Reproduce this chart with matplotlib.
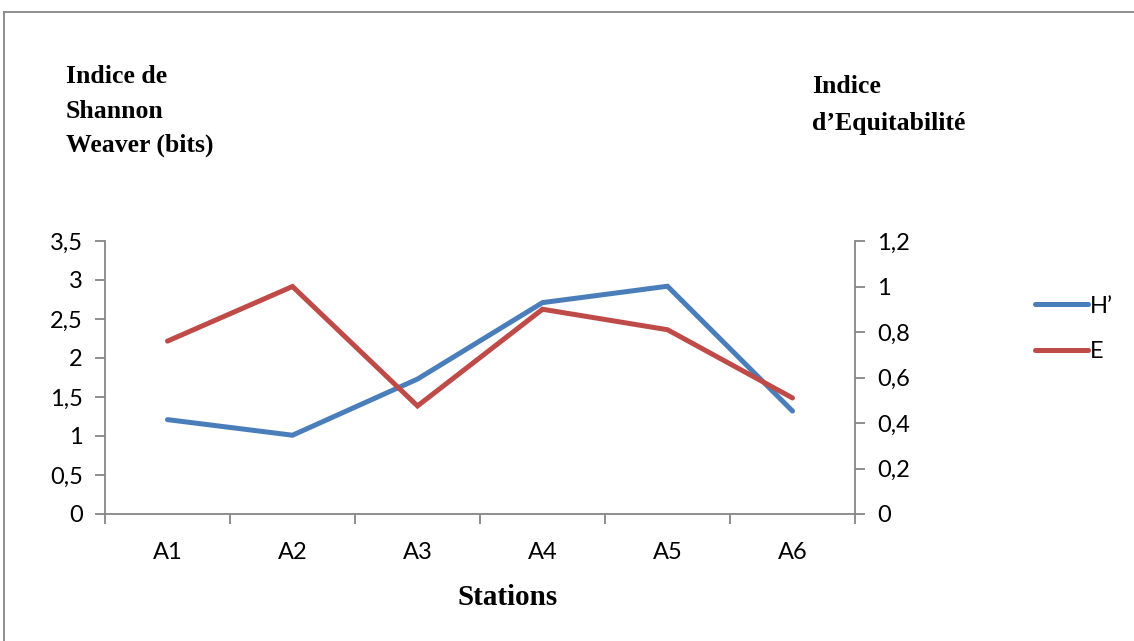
import matplotlib
matplotlib.use("Agg")
import matplotlib.pyplot as plt
from matplotlib.lines import Line2D

stations = ["A1", "A2", "A3", "A4", "A5", "A6"]
h_shannon = [1.21, 1.01, 1.73, 2.71, 2.92, 1.32]
equitability = [0.76, 1.00, 0.475, 0.90, 0.81, 0.51]
left_ticks = [0, 0.5, 1, 1.5, 2, 2.5, 3, 3.5]
right_ticks = [0, 0.2, 0.4, 0.6, 0.8, 1.0, 1.2]

def fr(v):
    return ("%g" % v).replace(".", ",")

W, H = 1134, 641
fig = plt.figure(figsize=(W / 100, H / 100), dpi=100)
ax = fig.add_axes([105 / W, 1 - 514 / H, 750 / W, 273 / H])
ax2 = ax.twinx()

blue = "#4A7EBB"
red = "#BE4B48"
gray = "#868686"
tickfont = "Lato"
tfs = 17

x = list(range(len(stations)))
l1, = ax.plot(x, h_shannon, color=blue, lw=3.6, solid_capstyle="round", solid_joinstyle="miter", label="H\u2019", zorder=3)
l2, = ax2.plot(x, equitability, color=red, lw=3.6, solid_capstyle="round", solid_joinstyle="miter", label="E", zorder=3)

ax.set_xlim(-0.5, len(stations) - 0.5)
ax.set_ylim(0, 3.5)
ax2.set_ylim(0, 1.2)

ax.set_yticks(left_ticks)
ax.set_yticklabels([fr(v) for v in left_ticks], fontfamily=tickfont, fontsize=tfs)
ax2.set_yticks(right_ticks)
ax2.set_yticklabels([fr(v) for v in right_ticks], fontfamily=tickfont, fontsize=tfs)

ax.set_xticks(x)
ax.set_xticklabels(stations, fontfamily=tickfont, fontsize=tfs)
ax.tick_params(axis="x", which="major", length=0, pad=20)
ax.set_xticks([i - 0.5 for i in range(len(stations) + 1)], minor=True)
ax.tick_params(axis="x", which="minor", length=7, width=1.3, color=gray, direction="out")
ax.tick_params(axis="y", length=7, width=1.3, color=gray, direction="out", pad=9)
ax2.tick_params(axis="y", length=7, width=1.3, color=gray, direction="out", pad=9)

for a in (ax, ax2):
    for s in a.spines.values():
        s.set_color(gray)
        s.set_linewidth(1.3)
    a.spines["top"].set_visible(False)
ax.spines["right"].set_visible(False)
ax2.spines["left"].set_visible(False)
ax2.spines["bottom"].set_visible(False)

# Axis titles (one text per line, baseline-positioned)
serif = "Liberation Serif"
tkw = dict(ha="left", va="baseline", fontfamily=serif, fontweight="bold", fontsize=18.5)
for txt, yb in [("Indice de", 83), ("Shannon", 118), ("Weaver (bits)", 152)]:
    fig.text(66 / W, 1 - yb / H, txt, **tkw)
for txt, yb in [("Indice", 93), ("d\u2019Equitabilit\u00e9", 130)]:
    fig.text(812 / W, 1 - yb / H, txt, **tkw)
fig.text(508 / W, 1 - 605 / H, "Stations", ha="center", va="baseline",
         fontfamily=serif, fontweight="bold", fontsize=21)

# Legend
fig.legend(handles=[l1, l2], loc="center left", bbox_to_anchor=(1023 / W, 1 - 329 / H),
           frameon=False, prop={"family": tickfont, "size": tfs}, handlelength=2.25,
           handletextpad=0.1, labelspacing=1.05, borderpad=0)

# Outer border (chart area)
fig.add_artist(Line2D([4 / W, 4 / W], [0, 1 - 12 / H], transform=fig.transFigure, color=gray, lw=1.3))
fig.add_artist(Line2D([4 / W, 1], [1 - 12 / H, 1 - 12 / H], transform=fig.transFigure, color=gray, lw=1.3))

fig.savefig("out.png", dpi=100)
